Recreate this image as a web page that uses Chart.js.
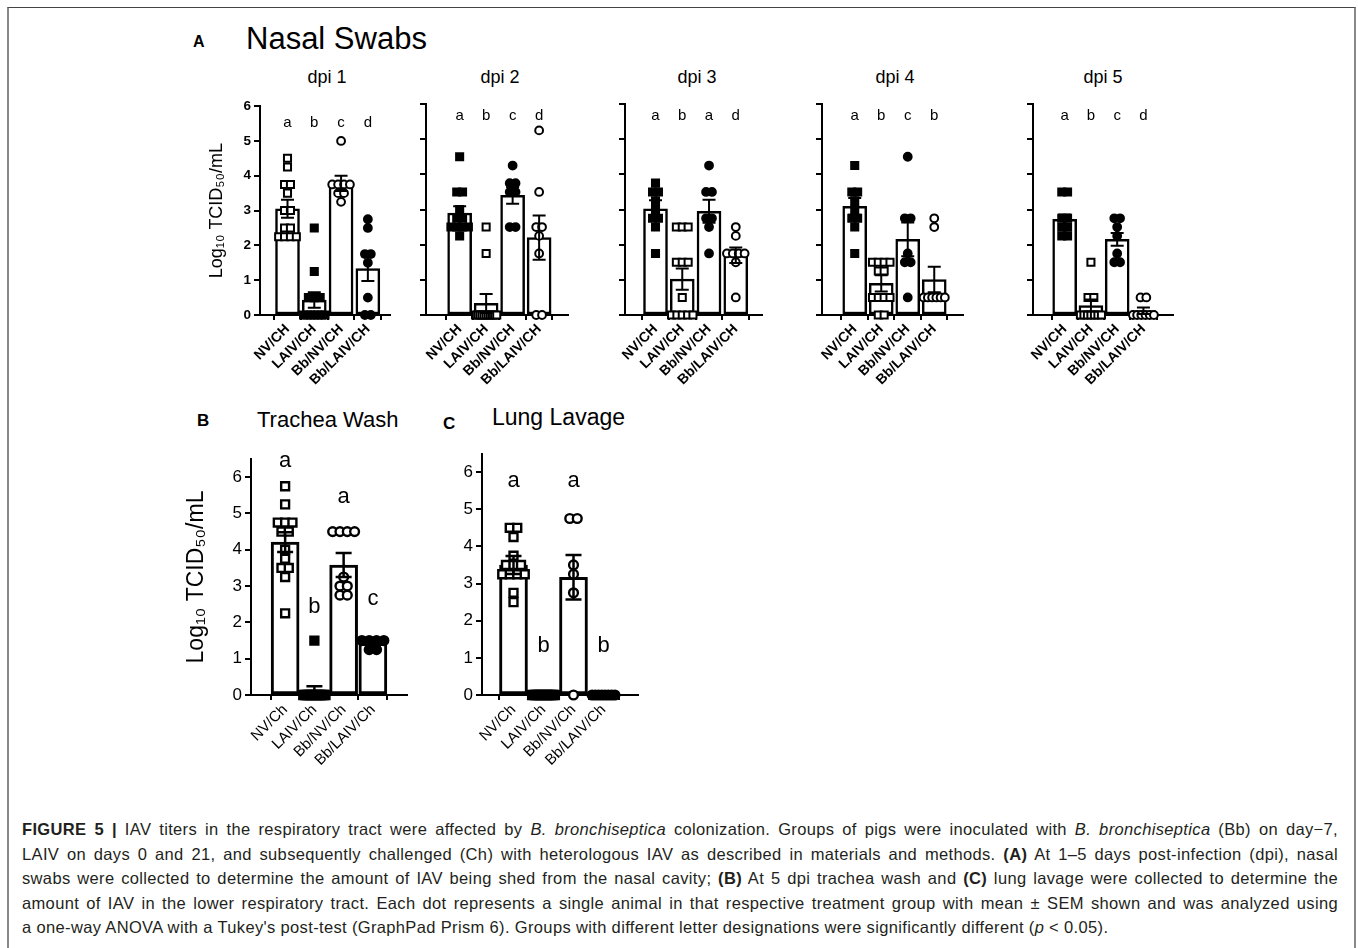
<!DOCTYPE html>
<html lang="en">
<head>
  <meta charset="UTF-8">
  <title>Figure 5 - IAV titers</title>
  <script src="https://cdn.jsdelivr.net/npm/chart.js"></script>
  <style>
    body { margin: 0; background: #fff; overflow: hidden; font-family: 'Liberation Sans', Arial, sans-serif; color: #000; }
    #fig { position: relative; width: 1358px; height: 948px; }
    .frame { position: absolute; left: 7px; top: 7px; width: 1345px; height: 960px; border-top: 1.5px solid #444; border-left: 2px solid #888; border-right: 2px solid #888; }
    .lbl { position: absolute; white-space: nowrap; }
    .ttl { position: absolute; width: 100px; text-align: center; font-size: 18px; line-height: 18px; }
    .cap { position: absolute; left: 22px; top: 817px; width: 1316px; font-size: 16.5px; letter-spacing: 0.35px; color: #231f20; }
    .cap div { height: 24.5px; line-height: 24.5px; text-align: justify; text-align-last: justify; white-space: nowrap; }
    .cap div.last { text-align-last: left; }
    canvas { position: absolute; }
  </style>
</head>
<body>
<div id="fig">
  <div class="frame"></div>

  <div class="lbl" style="left:193px;top:34px;font-size:16px;line-height:16px;font-weight:bold">A</div>
  <div class="lbl" style="left:246px;top:23px;font-size:31px;line-height:31px">Nasal Swabs</div>
  <div class="ttl" style="left:277px;top:68px">dpi 1</div>
  <div class="ttl" style="left:450px;top:68px">dpi 2</div>
  <div class="ttl" style="left:647px;top:68px">dpi 3</div>
  <div class="ttl" style="left:845px;top:68px">dpi 4</div>
  <div class="ttl" style="left:1053px;top:68px">dpi 5</div>

  <div class="lbl" style="left:197px;top:412px;font-size:17px;line-height:17px;font-weight:bold">B</div>
  <div class="lbl" style="left:257px;top:409px;font-size:22px;line-height:22px">Trachea Wash</div>
  <div class="lbl" style="left:443px;top:415px;font-size:17px;line-height:17px;font-weight:bold">C</div>
  <div class="lbl" style="left:492px;top:406px;font-size:23px;line-height:23px">Lung Lavage</div>

  <div class="cap">
    <div><b>FIGURE 5 |</b> IAV titers in the respiratory tract were affected by <i>B. bronchiseptica</i> colonization. Groups of pigs were inoculated with <i>B. bronchiseptica</i> (Bb) on day−7,</div>
    <div>LAIV on days 0 and 21, and subsequently challenged (Ch) with heterologous IAV as described in materials and methods. <b>(A)</b> At 1–5 days post-infection (dpi), nasal</div>
    <div>swabs were collected to determine the amount of IAV being shed from the nasal cavity; <b>(B)</b> At 5 dpi trachea wash and <b>(C)</b> lung lavage were collected to determine the</div>
    <div>amount of IAV in the lower respiratory tract. Each dot represents a single animal in that respective treatment group with mean ± SEM shown and was analyzed using</div>
    <div class="last">a one-way ANOVA with a Tukey's post-test (GraphPad Prism 6). Groups with different letter designations were significantly different (<i>p</i> &lt; 0.05).</div>
  </div>
</div>

<script>
  // groups
  const groupsA = ['NV/CH', 'LAIV/CH', 'Bb/NV/CH', 'Bb/LAIV/CH'];
  const groupsBC = ['NV/Ch', 'LAIV/Ch', 'Bb/NV/Ch', 'Bb/LAIV/Ch'];
  const yTitle = 'Log\u2081\u2080 TCID\u2085\u2080/mL';

  // nasal swabs, log10 TCID50/mL per pig
  const dpi1Titers = [
    [4.5, 4.25, 3.75, 3.75, 3.5, 3.0, 3.0, 2.5, 2.5, 2.25, 2.25, 2.25, 2.25],
    [2.5, 1.25, 0.5, 0.5, 0.5, 0, 0, 0, 0, 0, 0, 0],
    [5.0, 3.75, 3.75, 3.75, 3.75, 3.5, 3.5, 3.25],
    [2.75, 2.5, 1.75, 1.75, 1.5, 0.5, 0, 0]
  ];
  const dpi1Mean = [3.05, 0.43, 3.78, 1.33];
  const dpi1Sem = [0.26, 0.22, 0.22, 0.35];
  const dpi1Letters = ['a', 'b', 'c', 'd'];

  const dpi2Titers = [
    [4.5, 3.5, 3.5, 3.0, 2.75, 2.75, 2.5, 2.5, 2.5, 2.5, 2.25],
    [2.5, 1.75, 0, 0, 0, 0, 0, 0, 0, 0, 0, 0, 0],
    [4.25, 3.75, 3.75, 3.5, 3.5, 2.5, 2.5],
    [5.25, 3.5, 2.5, 2.5, 2.25, 1.75, 0, 0]
  ];
  const dpi2Mean = [2.9, 0.33, 3.4, 2.2];
  const dpi2Sem = [0.19, 0.27, 0.24, 0.63];
  const dpi2Letters = ['a', 'b', 'c', 'd'];

  const dpi3Titers = [
    [3.75, 3.5, 3.5, 3.25, 3.0, 2.75, 2.75, 2.5, 1.75],
    [2.5, 2.5, 2.5, 1.5, 1.5, 1.5, 0.5, 0, 0, 0, 0, 0],
    [4.25, 3.5, 3.5, 2.75, 2.75, 2.5, 1.75],
    [2.5, 2.25, 1.75, 1.75, 1.75, 1.75, 1.5, 0.5]
  ];
  const dpi3Mean = [3.02, 1.02, 2.95, 1.7];
  const dpi3Sem = [0.24, 0.3, 0.33, 0.22];
  const dpi3Letters = ['a', 'b', 'a', 'd'];

  const dpi4Titers = [
    [4.25, 3.5, 3.5, 3.25, 3.0, 2.75, 2.75, 2.5, 1.75],
    [1.5, 1.5, 1.5, 1.5, 1.25, 1.25, 0.5, 0.5, 0.5, 0.5, 0, 0],
    [4.5, 2.75, 2.75, 1.75, 1.5, 1.5, 0.5],
    [2.75, 2.5, 0.5, 0.5, 0.5, 0.5, 0.5, 0.5]
  ];
  const dpi4Mean = [3.09, 0.9, 2.15, 1.01];
  const dpi4Sem = [0.24, 0.23, 0.48, 0.36];
  const dpi4Letters = ['a', 'b', 'c', 'b'];

  const dpi5Titers = [
    [3.5, 3.5, 2.75, 2.75, 2.5, 2.5, 2.25, 2.25],
    [1.5, 0.5, 0.5, 0, 0, 0, 0, 0, 0, 0],
    [2.75, 2.75, 2.5, 2.25, 1.75, 1.5, 1.5],
    [0.5, 0.5, 0, 0, 0, 0, 0, 0]
  ];
  const dpi5Mean = [2.72, 0.27, 2.15, 0.12];
  const dpi5Sem = [0.14, 0.17, 0.18, 0.09];
  const dpi5Letters = ['a', 'b', 'c', 'd'];

  // trachea wash
  const tracheaTiters = [
    [5.75, 5.25, 4.75, 4.75, 4.75, 4.5, 4.5, 4.0, 3.75, 3.5, 3.5, 3.25, 2.25],
    [1.5, 0, 0, 0, 0, 0, 0, 0, 0, 0, 0, 0, 0, 0],
    [4.5, 4.5, 4.5, 4.5, 3.25, 3.0, 3.0, 2.75, 2.75],
    [1.5, 1.5, 1.5, 1.5, 1.25, 1.25]
  ];
  const tracheaMean = [4.21, 0.1, 3.58, 1.42];
  const tracheaSem = [0.27, 0.14, 0.33, 0.05];
  const tracheaLetters = ['a', 'b', 'a', 'c'];

  // lung lavage
  const lungTiters = [
    [4.5, 4.5, 4.25, 3.75, 3.5, 3.5, 3.5, 3.25, 3.25, 3.25, 3.25, 2.75, 2.5],
    [0, 0, 0, 0, 0, 0, 0, 0, 0, 0, 0, 0],
    [4.75, 4.75, 3.5, 3.25, 2.75, 0],
    [0, 0, 0, 0, 0, 0, 0, 0]
  ];
  const lungMean = [3.5, 0, 3.17, 0];
  const lungSem = [0.24, 0, 0.6, 0];
  const lungLetters = ['a', 'b', 'a', 'b'];

  Chart.defaults.font.family = "'Liberation Sans', Arial, sans-serif";
  Chart.defaults.color = '#000';

  const SHAPES = ['rect', 'rect', 'circle', 'circle'];

  // Prism-like column scatter: equal values sit side by side
  function spread(values, center, step, maxHalf) {
    const counts = {};
    values.forEach(v => counts[v] = (counts[v] || 0) + 1);
    const seen = {};
    return values.map(v => {
      const n = counts[v];
      seen[v] = seen[v] === undefined ? 0 : seen[v] + 1;
      let s = step;
      if (n > 1 && (n - 1) * s / 2 > maxHalf) s = 2 * maxHalf / (n - 1);
      return { x: center + (seen[v] - (n - 1) / 2) * s, y: v };
    });
  }

  function makePanel(p) {
    const cv = document.createElement('canvas');
    cv.width = p.w; cv.height = p.h;
    cv.style.left = p.left + 'px'; cv.style.top = p.top + 'px';
    cv.style.width = p.w + 'px'; cv.style.height = p.h + 'px';
    document.getElementById('fig').appendChild(cv);

    const datasets = [{
      type: 'bar',
      data: p.means.map((m, i) => ({ x: i, y: m })),
      backgroundColor: '#fff', borderColor: '#000', borderWidth: p.barLine,
      borderSkipped: false, barThickness: p.barW, order: 2
    }];
    p.points.forEach((vals, i) => {
      datasets.push({
        type: 'scatter',
        data: spread(vals, i, p.step, p.maxHalf),
        pointStyle: SHAPES[i],
        pointRadius: SHAPES[i] === 'rect' ? p.rectR : p.circR,
        backgroundColor: p.fills[i] ? '#000' : '#fff',
        borderColor: '#000', borderWidth: p.markLine,
        clip: false, order: 1
      });
    });

    const errorBars = {
      id: 'errorBars',
      afterDatasetsDraw(chart) {
        const { ctx, scales: { x, y } } = chart;
        ctx.save();
        ctx.strokeStyle = '#000'; ctx.lineWidth = p.errLine;
        p.means.forEach((m, i) => {
          const s = p.sems[i];
          if (!s) return;
          const px = x.getPixelForValue(i);
          const top = y.getPixelForValue(m + s);
          const bot = y.getPixelForValue(Math.max(0, m - s));
          ctx.beginPath();
          ctx.moveTo(px, top); ctx.lineTo(px, bot);
          ctx.moveTo(px - p.cap, top); ctx.lineTo(px + p.cap, top);
          ctx.moveTo(px - p.cap, bot); ctx.lineTo(px + p.cap, bot);
          ctx.stroke();
        });
        ctx.restore();
      }
    };
    const letters = {
      id: 'letters',
      afterDraw(chart) {
        const { ctx, scales: { x, y } } = chart;
        ctx.save();
        ctx.font = p.letterFont; ctx.fillStyle = '#000';
        ctx.textAlign = 'center'; ctx.textBaseline = 'alphabetic';
        p.letters.forEach((t, i) => ctx.fillText(t, x.getPixelForValue(i), y.getPixelForValue(p.letterAt[i])));
        ctx.restore();
      }
    };

    const axisGrid = { drawOnChartArea: false, drawTicks: true, tickLength: 6, color: '#000', lineWidth: 2 };
    new Chart(cv, {
      type: 'scatter',
      data: { datasets },
      options: {
        responsive: false, animation: false, events: [],
        layout: { padding: { top: p.padTop, right: 10, left: 0, bottom: 0 }, autoPadding: false },
        plugins: { legend: { display: false }, tooltip: { enabled: false } },
        scales: {
          x: {
            type: 'linear', min: p.xMin, max: p.xMax,
            afterBuildTicks: s => { s.ticks = p.cats.map((c, i) => ({ value: i })); },
            afterFit: s => { s.height = p.xH; },
            ticks: { callback: v => p.cats[v], minRotation: 45, maxRotation: 45, autoSkip: false, font: p.catFont, padding: 1 },
            grid: Object.assign({}, axisGrid, { tickLength: 5 }),
            border: { display: true, color: '#000', width: 2 }
          },
          y: {
            min: 0, max: p.yMax,
            afterFit: s => { s.width = p.yW; },
            ticks: { stepSize: 1, includeBounds: false, display: p.yLabels, font: p.tickFont, padding: 3 },
            grid: axisGrid,
            border: { display: true, color: '#000', width: 2 },
            title: { display: !!p.yTitle, text: p.yTitle || '', font: p.yTitleFont, padding: { top: p.titlePad, bottom: 0 } }
          }
        }
      },
      plugins: [errorBars, letters]
    });
  }

  const nasalStyle = {
    top: 95, h: 300, padTop: 9, xH: 80, yW: 60, yMax: 6,
    cats: groupsA, barW: 24, barLine: 2.5, errLine: 2, cap: 6.5,
    step: 0.22, maxHalf: 0.4, rectR: 5, circR: 3.9, markLine: 2,
    catFont: { size: 14, weight: 'bold' }, tickFont: { size: 13.5, weight: 'bold' },
    letterFont: "15px 'Liberation Sans', Arial, sans-serif"
  };
  const dpiOpen = [0, 1, 0, 1];
  const dpiFilled = [1, 0, 1, 0];

  makePanel(Object.assign({}, nasalStyle, {
    left: 200, w: 200, xMin: -0.42, xMax: 3.22, yLabels: true,
    yTitle, yTitleFont: { size: 18 }, titlePad: 6,
    points: dpi1Titers, means: dpi1Mean, sems: dpi1Sem, letters: dpi1Letters,
    letterAt: [5.4, 5.4, 5.4, 5.4], fills: dpiOpen
  }));
  makePanel(Object.assign({}, nasalStyle, {
    left: 366, w: 212, xMin: -0.6, xMax: 3.42, yLabels: false,
    points: dpi2Titers, means: dpi2Mean, sems: dpi2Sem, letters: dpi2Letters,
    letterAt: [5.54, 5.54, 5.54, 5.54], fills: dpiFilled
  }));
  makePanel(Object.assign({}, nasalStyle, {
    left: 565, w: 207, xMin: -0.5, xMax: 3.34, yLabels: false,
    points: dpi3Titers, means: dpi3Mean, sems: dpi3Sem, letters: dpi3Letters,
    letterAt: [5.54, 5.54, 5.54, 5.54], fills: dpiFilled
  }));
  makePanel(Object.assign({}, nasalStyle, {
    left: 762, w: 211, xMin: -0.57, xMax: 3.42, yLabels: false,
    points: dpi4Titers, means: dpi4Mean, sems: dpi4Sem, letters: dpi4Letters,
    letterAt: [5.54, 5.54, 5.54, 5.54], fills: dpiFilled
  }));
  makePanel(Object.assign({}, nasalStyle, {
    left: 973, w: 210, xMin: -0.54, xMax: 3.46, yLabels: false,
    points: dpi5Titers, means: dpi5Mean, sems: dpi5Sem, letters: dpi5Letters,
    letterAt: [5.54, 5.54, 5.54, 5.54], fills: dpiFilled
  }));

  const lowerStyle = {
    xH: 110, yMax: 6.5, cats: groupsBC, barW: 28, barLine: 3, errLine: 2.5, cap: 8,
    step: 0.25, maxHalf: 0.38, rectR: 5.6, circR: 4.4, markLine: 2.4, yLabels: true,
    catFont: { size: 15 }, tickFont: { size: 17 },
    letterFont: "22px 'Liberation Sans', Arial, sans-serif"
  };
  makePanel(Object.assign({}, lowerStyle, {
    left: 181, top: 440, w: 236, h: 365, padTop: 19, yW: 70, xMin: -0.5, xMax: 3.5,
    yTitle, yTitleFont: { size: 23 }, titlePad: 2,
    points: tracheaTiters, means: tracheaMean, sems: tracheaSem, letters: tracheaLetters,
    letterAt: [6.28, 2.26, 5.29, 2.48], fills: [0, 1, 0, 1]
  }));
  makePanel(Object.assign({}, lowerStyle, {
    left: 432, top: 435, w: 216, h: 370, padTop: 18.5, yW: 50, xMin: -0.4, xMax: 3.5,
    points: lungTiters, means: lungMean, sems: lungSem, letters: lungLetters,
    letterAt: [5.6, 1.16, 5.6, 1.16], fills: [0, 1, 0, 1]
  }));
</script>
</body>
</html>
